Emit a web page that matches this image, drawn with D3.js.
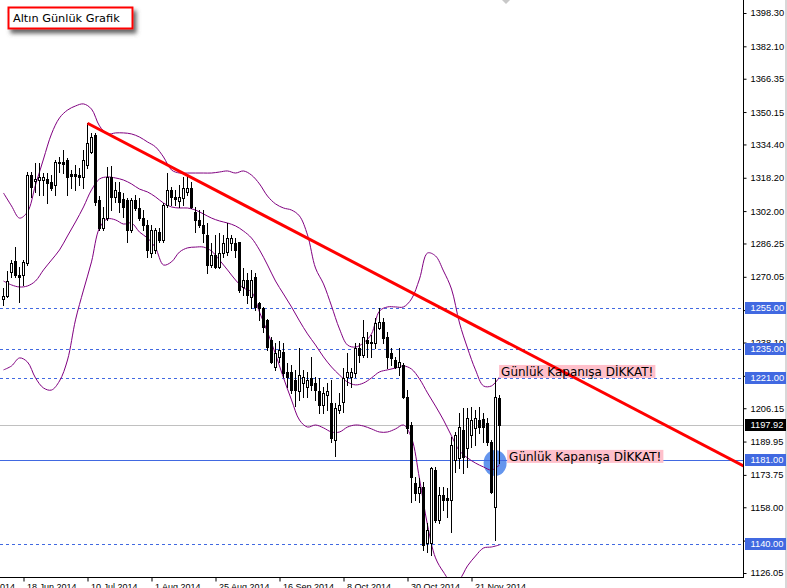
<!DOCTYPE html>
<html><head><meta charset="utf-8">
<script src="https://cdn.jsdelivr.net/npm/d3@7/dist/d3.min.js"></script>
<style>html,body{margin:0;padding:0;background:#fff;} svg{display:block;}</style>
</head><body>
<svg id="chart" width="787" height="588"></svg>
<script>
// ---------- DATA (gold daily) ----------
const opens = [1259.1,1260.7,1272.5,1277.7,1270.9,1270.8,1276.9,1319.5,1316.6,1317.1,1317.1,1317.6,1316.1,1314.7,1325.2,1325.9,1326.8,1320.0,1320.0,1319.5,
1318.7,1324.4,1330.9,1339.0,1307.4,1293.8,1298.5,1318.7,1308.9,1311.4,1307.9,1307.4,1292.8,1307.4,1303.5,1298.7,1295.3,1281.6,1283.1,1292.0,
1288.0,1305.0,1312.3,1308.9,1307.1,1308.2,1311.3,1313.1,1301.7,1297.7,1295.3,1290.4,1275.8,1280.7,1275.0,1281.6,1282.1,1286.5,1286.6,1287.1,
1265.3,1268.5,1260.4,1270.1,1257.3,1254.9,1249.1,1239.4,1226.4,1231.3,1233.7,1224.0,1224.0,1219.9,1214.3,1218.3,1216.7,1220.9,1218.5,1214.3,
1207.8,1212.6,1208.7,1190.8,1205.3,1209.4,1221.5,1221.5,1223.2,1235.5,1232.1,1239.4,1238.5,1237.8,1245.0,1248.2,1240.9,1233.0,1229.6,1226.4,
1227.2,1211.8,1198.0,1169.8,1164.9,1168.1,1140.7,1140.7,1176.2,1151.9,1164.0,1162.5,1161.6,1181.0,1181.8,1195.6,1186.7,1193.2,1196.4,1200.4,
1200.9,1199.0,1189.9,1158.2,1211.1];
const highs = [1264.8,1273.0,1278.2,1284.7,1275.0,1278.2,1321.1,1321.1,1325.4,1325.4,1320.5,1320.5,1319.6,1326.8,1328.4,1331.7,1327.8,1322.0,1324.4,1323.0,
1331.7,1344.7,1340.0,1340.0,1309.3,1304.2,1323.6,1323.9,1316.3,1316.3,1310.8,1308.4,1308.4,1309.8,1308.4,1302.5,1297.7,1295.3,1293.8,1293.8,
1306.0,1320.5,1313.9,1312.3,1314.7,1318.7,1319.5,1316.3,1304.2,1302.5,1302.5,1296.2,1286.5,1290.4,1291.4,1290.4,1296.2,1290.4,1288.9,1287.1,
1274.4,1271.9,1273.4,1271.9,1258.0,1255.5,1249.6,1241.0,1237.9,1238.6,1237.9,1228.2,1227.2,1224.8,1235.5,1224.8,1224.0,1231.3,1221.5,1220.9,
1216.7,1218.5,1219.9,1208.7,1213.6,1225.7,1233.0,1225.7,1237.9,1237.9,1249.1,1243.4,1241.8,1250.0,1254.7,1250.0,1243.4,1235.5,1231.3,1235.5,
1228.2,1215.1,1199.6,1172.9,1172.3,1170.5,1150.4,1177.8,1177.8,1168.0,1168.0,1167.4,1192.3,1194.8,1203.7,1206.1,1206.1,1206.9,1205.3,1206.9,
1203.9,1201.4,1190.7,1220.9,1212.6];
const lows = [1256.3,1260.0,1270.1,1270.1,1257.9,1266.1,1275.8,1309.0,1311.4,1309.8,1309.8,1305.9,1312.3,1309.8,1321.2,1320.5,1309.8,1313.1,1312.3,1314.7,
1313.1,1323.0,1330.2,1304.9,1292.8,1292.8,1297.7,1302.5,1306.6,1301.7,1299.3,1287.1,1292.0,1302.5,1297.7,1292.8,1279.8,1279.8,1281.6,1287.1,
1287.0,1304.2,1305.0,1305.0,1304.2,1305.0,1309.8,1303.4,1292.0,1294.5,1287.1,1271.8,1275.0,1274.4,1274.4,1279.8,1280.7,1283.1,1279.8,1262.8,
1261.2,1257.3,1254.7,1254.0,1249.1,1243.4,1234.5,1228.0,1224.8,1228.8,1221.5,1216.7,1213.6,1207.0,1210.2,1211.8,1211.8,1215.1,1210.2,1203.9,
1203.9,1205.4,1189.9,1182.7,1203.9,1204.5,1217.5,1216.7,1221.5,1228.8,1231.3,1231.3,1231.3,1235.5,1244.5,1237.9,1225.7,1227.2,1225.7,1222.3,
1211.1,1194.1,1160.8,1161.6,1160.8,1137.3,1136.5,1134.8,1151.0,1150.4,1156.7,1153.4,1146.1,1175.3,1177.0,1174.5,1177.7,1187.5,1188.3,1194.0,
1189.9,1188.3,1164.9,1142.1,1179.5];
const closes = [1260.7,1268.2,1276.6,1270.9,1269.8,1277.2,1319.5,1313.8,1317.6,1318.7,1318.7,1315.8,1313.2,1326.0,1326.0,1325.1,1318.7,1319.1,1319.1,1318.7,
1326.8,1335.1,1338.2,1306.6,1293.6,1298.7,1318.7,1309.0,1312.3,1306.6,1304.2,1292.8,1307.4,1303.5,1298.7,1295.3,1283.1,1292.8,1292.8,1288.0,
1305.0,1312.3,1309.0,1307.9,1308.9,1313.1,1313.2,1304.2,1297.7,1295.3,1291.4,1275.8,1280.7,1275.0,1281.6,1286.5,1288.9,1288.9,1283.1,1263.7,
1268.5,1261.2,1268.5,1255.5,1254.9,1245.7,1236.1,1228.8,1233.0,1234.5,1223.2,1221.5,1215.1,1215.1,1222.3,1221.5,1219.9,1217.5,1215.1,1207.8,
1213.6,1214.3,1191.7,1206.3,1207.8,1220.9,1224.0,1224.0,1235.5,1232.1,1240.9,1237.8,1237.8,1247.6,1248.2,1240.2,1231.3,1230.6,1226.4,1228.8,
1211.8,1196.6,1172.9,1164.9,1168.1,1139.7,1147.0,1177.1,1151.9,1164.0,1161.6,1161.6,1188.3,1193.2,1197.2,1182.6,1201.3,1200.4,1201.3,1197.2,
1197.0,1189.9,1165.6,1211.6,1197.92];

// Bollinger bands (20,2), read every 2nd bar
const bbIndex = d3.range(0, 125, 2);
const bbUpper = [1310.8,1304.5,1298.6,1301.6,1314.7,1327.3,1339.5,1347.3,1351.1,1353.1,1354.1,1351.6,1343.4,1339.5,1340.0,1340.0,1339.5,1338.0,1335.6,1333.2,
1328.3,1322.0,1320.5,1320.5,1320.5,1320.5,1320.5,1321.0,1321.5,1320.5,1321.5,1319.5,1315.2,1309.3,1305.5,1303.5,1302.5,1299.6,1290.4,1274.3,
1266.6,1255.9,1244.7,1236.9,1235.9,1237.9,1242.3,1253.4,1255.4,1255.4,1255.4,1259.3,1269.0,1281.6,1280.2,1272.9,1264.1,1247.6,1235.4,1224.8,
1217.0,1217.0,1221.3];
const bbMiddle = [1268.0,1266.1,1265.1,1265.6,1268.0,1273.4,1278.2,1283.1,1289.9,1296.7,1304.0,1312.3,1317.6,1318.6,1318.1,1317.1,1315.2,1312.7,1311.3,1308.9,
1305.9,1304.0,1303.5,1303.5,1302.5,1300.6,1298.6,1297.2,1296.2,1294.8,1292.3,1288.9,1283.1,1275.8,1268.0,1261.7,1255.4,1248.6,1242.3,1236.9,
1231.1,1226.2,1222.3,1218.9,1217.5,1218.4,1220.9,1223.8,1224.8,1225.7,1226.7,1225.2,1220.4,1213.6,1207.2,1200.4,1192.7,1185.4,1182.0,1179.5,
1177.6,1176.1,1178.6];
const bbLower = [1224.8,1226.7,1230.6,1228.6,1220.9,1216.0,1215.0,1219.4,1229.6,1249.1,1263.6,1277.3,1293.8,1298.2,1297.7,1295.7,1296.2,1291.8,1288.9,1284.1,
1275.8,1277.3,1282.1,1284.1,1284.5,1284.5,1282.6,1278.2,1273.4,1268.5,1264.6,1262.7,1252.9,1243.2,1232.5,1220.9,1210.2,1200.4,1197.0,1198.0,
1196.6,1194.6,1194.6,1197.0,1198.0,1197.5,1196.1,1194.6,1194.6,1196.1,1198.0,1191.7,1171.8,1149.4,1133.4,1126.5,1121.7,1123.1,1129.5,1134.3,
1138.2,1138.7,1139.7];

const priceTicks = [1398.30,1382.10,1366.35,1350.15,1334.40,1318.20,1302.00,1286.25,1270.05,1253.85,1238.10,1221.90,1206.15,1189.95,1173.75,1158.00,1141.80,1126.05];
const dateTickIndex = [-11, 5, 21, 37, 53, 69, 85, 101, 117];
const dateTickLabels = ["27 May 2014","18 Jun 2014","10 Jul 2014","1 Aug 2014","25 Aug 2014","16 Sep 2014","8 Oct 2014","30 Oct 2014","21 Nov 2014"];

const dashedLevels = [1255.00, 1235.00, 1221.00, 1140.00];
const solidLevel = 1181.00;
const lastPrice = 1197.92;
const trendIdx = [21, 185];
const trendPrice = [1344.7, 1178.1];
const ellipseIdx = 122.9, ellipsePrice = 1179.5;
const noteText = "Günlük Kapanışa DİKKAT!";
const noteIdx = [123.9, 125.9];
const notePrice = [1227.2, 1185.9];
const titleText = "Altın Günlük Grafik";

// ---------- LAYOUT ----------
const W = 787, H = 588, plotR = 743, plotB = 577;
const svg = d3.select("#chart");
const x = d3.scaleLinear().domain([0, 124]).range([3.5, 499.5]);
const y = d3.scaleLinear().domain([1126.05, 1398.30]).range([573, 13]);
const cy = v => Math.round(y(v)) + 0.5;

svg.append("rect").attr("width", W).attr("height", H).attr("fill", "#fff");
svg.append("rect").attr("x", 785).attr("y", 0).attr("width", 2).attr("height", H).attr("fill", "#d8d8d8");

const defs = svg.append("defs");
defs.append("clipPath").attr("id", "plot").append("rect").attr("x", 0).attr("y", 0).attr("width", plotR).attr("height", plotB);
const f = defs.append("filter").attr("id", "shadow").attr("x", "-20%").attr("y", "-40%").attr("width", "150%").attr("height", "220%");
f.append("feDropShadow").attr("dx", 3).attr("dy", 4).attr("stdDeviation", 2.2).attr("flood-color", "#555").attr("flood-opacity", 0.9);

const g = svg.append("g").attr("clip-path", "url(#plot)");

// ellipse (background object)
g.append("ellipse").attr("cx", x(ellipseIdx)).attr("cy", y(ellipsePrice)).attr("rx", 11.5).attr("ry", 13).attr("fill", "#6495ED");

// horizontal levels
dashedLevels.forEach(v => {
  g.append("line").attr("x1", 0).attr("x2", plotR).attr("y1", cy(v)).attr("y2", cy(v))
   .attr("stroke", "#4169E1").attr("stroke-width", 1).attr("stroke-dasharray", "3,3");
});
g.append("line").attr("x1", 0).attr("x2", plotR).attr("y1", cy(solidLevel)).attr("y2", cy(solidLevel))
 .attr("stroke", "#4169E1").attr("stroke-width", 1);
g.append("line").attr("x1", 0).attr("x2", plotR).attr("y1", cy(lastPrice)).attr("y2", cy(lastPrice))
 .attr("stroke", "#c0c0c0").attr("stroke-width", 1);

// Bollinger bands
const bandLine = d3.line().x((d, k) => x(bbIndex[k])).y(d => y(d)).curve(d3.curveCatmullRom);
[bbUpper, bbMiddle, bbLower].forEach(arr => {
  g.append("path").attr("d", bandLine(arr)).attr("fill", "none").attr("stroke", "#800080").attr("stroke-width", 1);
});

// candles
const cg = g.append("g");
opens.forEach((o, i) => {
  const c = closes[i], xi = x(i);
  cg.append("line").attr("x1", xi).attr("x2", xi).attr("y1", Math.round(y(highs[i]))).attr("y2", Math.round(y(lows[i])) + 1)
    .attr("stroke", "#000").attr("stroke-width", 1);
  const top = Math.round(y(Math.max(o, c))), bot = Math.round(y(Math.min(o, c)));
  cg.append("rect").attr("x", xi - 1).attr("y", top + 0.5).attr("width", 2).attr("height", Math.max(bot - top, 0))
    .attr("fill", c >= o ? "#fff" : "#000").attr("stroke", "#000").attr("stroke-width", 1);
});

// notes backgrounds
const notes = noteIdx.map((ni, k) => ({ x: x(ni), y: y(notePrice[k]) }));
const noteBgs = notes.map(n => g.append("rect").attr("fill", "#FFC0CB"));

// trend line
g.append("line").attr("x1", x(trendIdx[0])).attr("y1", y(trendPrice[0])).attr("x2", x(trendIdx[1])).attr("y2", y(trendPrice[1]))
 .attr("stroke", "#ff0000").attr("stroke-width", 3);

// notes text
notes.forEach((n, k) => {
  const t = g.append("text").attr("x", n.x + 2).attr("y", n.y + 11)
    .attr("font-family", "DejaVu Sans").attr("font-size", "12px").attr("fill", "#000").text(noteText);
  const w = t.node().getComputedTextLength();
  noteBgs[k].attr("x", n.x).attr("y", n.y).attr("width", w + 4).attr("height", 13);
});

// ---------- AXES ----------
const axR = svg.append("g").attr("transform", `translate(${plotR + 0.5},0)`)
  .call(d3.axisRight(y).tickValues(priceTicks).tickSize(3).tickPadding(4).tickFormat(d3.format(".2f")));
axR.select(".domain").remove();
axR.selectAll("text").attr("font-family", "Liberation Sans, Arial, sans-serif").attr("font-size", "9.3px").attr("fill", "#000");
axR.selectAll("line").attr("stroke", "#000");

const axB = svg.append("g").attr("transform", `translate(0,${plotB + 0.5})`)
  .call(d3.axisBottom(x).tickValues(dateTickIndex).tickSize(4).tickPadding(2).tickFormat((d, k) => dateTickLabels[k]));
axB.select(".domain").remove();
axB.selectAll("text").attr("text-anchor", "start").attr("x", 3)
  .attr("font-family", "Liberation Sans, Arial, sans-serif").attr("font-size", "9px").attr("fill", "#000");
axB.selectAll("line").attr("stroke", "#000");

svg.append("line").attr("x1", plotR + 0.5).attr("x2", plotR + 0.5).attr("y1", 0).attr("y2", plotB + 1).attr("stroke", "#000");
svg.append("line").attr("x1", 0).attr("x2", plotR + 1).attr("y1", plotB + 0.5).attr("y2", plotB + 0.5).attr("stroke", "#000");

// highlighted price labels
const priceBox = (v, fill) => {
  const yy = Math.round(y(v));
  svg.append("rect").attr("x", 745).attr("y", yy - 6).attr("width", 41).attr("height", 12).attr("fill", fill);
  svg.append("text").attr("x", 750.5).attr("y", yy).attr("dy", "0.33em")
    .attr("font-family", "Liberation Sans, Arial, sans-serif").attr("font-size", "9.3px").attr("fill", "#fff")
    .text(d3.format(".2f")(v));
};
dashedLevels.concat([solidLevel]).forEach(v => priceBox(v, "#4169E1"));
priceBox(lastPrice, "#000");

// shift marker
svg.append("path").attr("d", "M502,0 L510,0 L506,4 Z").attr("fill", "#c8c8c8");

// title box
svg.append("rect").attr("x", 8.5).attr("y", 7.5).attr("width", 124).attr("height", 21)
  .attr("fill", "#fff").attr("stroke", "#ff0000").attr("stroke-width", 2).attr("filter", "url(#shadow)");
svg.append("text").attr("x", 13).attr("y", 22).attr("font-family", "DejaVu Sans").attr("font-size", "11.3px")
  .attr("fill", "#000").text(titleText);
</script>
</body></html>
